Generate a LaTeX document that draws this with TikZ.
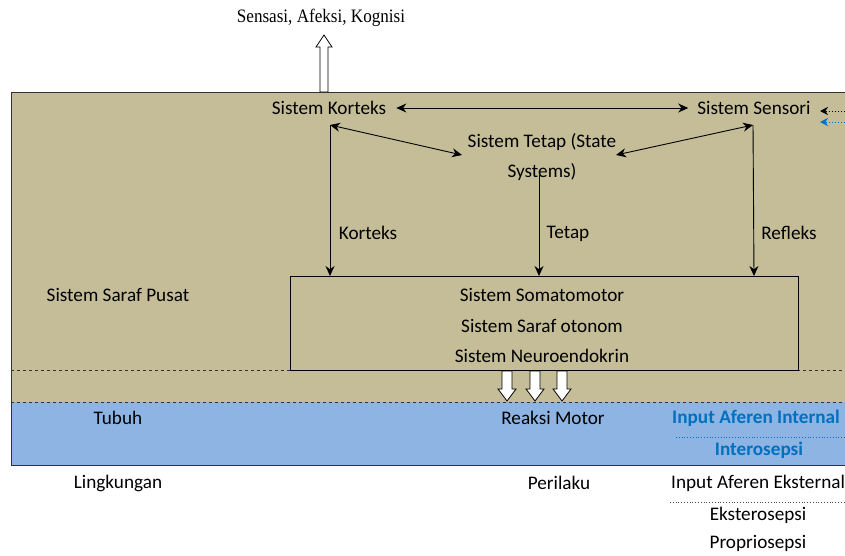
\documentclass[tikz,border=0pt]{standalone}
\usepackage{fontspec}
\setmainfont{Carlito}
\newfontfamily\serifnote{Liberation Serif}
\usetikzlibrary{arrows.meta}
\definecolor{tanbg}{HTML}{C4BD97}
\definecolor{bluebg}{HTML}{8DB4E2}
\definecolor{inblue}{HTML}{0070C0}
\begin{document}
\begin{tikzpicture}[x=1pt,y=-1pt,
  lbl/.style={inner sep=0pt,font=\fontsize{19.2}{22}\selectfont},
  blbl/.style={lbl,font=\fontsize{19.2}{22}\selectfont\bfseries,text=inblue},
  arr/.style={-{Stealth[length=10pt,width=9pt]},line width=0.9pt},
  darr/.style={{Stealth[length=10pt,width=9pt]}-{Stealth[length=10pt,width=9pt]},line width=0.9pt},
  hollowdown/.pic={\draw[fill=white,line width=0.8pt] (-5,0) -- (5,0) -- (5,18) -- (9,18) -- (0,30) -- (-9,18) -- (-5,18) -- cycle;},
  hollowup/.pic={\draw[fill=white,line width=0.8pt] (-4,0) -- (4,0) -- (4,-45) -- (8,-45) -- (0,-57) -- (-8,-45) -- (-4,-45) -- cycle;}
]
\useasboundingbox (0,0) rectangle (845,555);
% backgrounds
\fill[tanbg] (11,92) rectangle (860,402);
\fill[bluebg] (11,402) rectangle (860,465);
\draw[line width=0.9pt,black!80] (860,92) -- (11,92) -- (11,465) -- (860,465);
\draw[dashed,line width=0.8pt,black!80] (11,370) -- (860,370);
\draw[dashed,line width=0.8pt,black!80] (11,402) -- (860,402);
% inner box
\draw[line width=0.9pt,fill=tanbg] (290,276) rectangle (798,370);
\node[lbl] (somato) at (542,295) {Sistem Somatomotor};
\node[lbl] (otonom) at (542,326) {Sistem Saraf otonom};
\node[lbl] (neuro) at (542,356) {Sistem Neuroendokrin};
\coordinate (boxK) at (330,276);
\coordinate (boxT) at (539,276);
\coordinate (boxR) at (754,276);
% top nodes
\node[lbl] (korteks) at (329,108) {Sistem Korteks};
\node[lbl] (sensori) at (754,108) {Sistem Sensori};
\node[lbl,align=center,font=\fontsize{19.2}{30}\selectfont] (tetap) at (542,157) {Sistem Tetap (State\\Systems)};
\coordinate (kD) at (330,125);
\coordinate (sD) at (753,125);
\coordinate (tW) at (462,155);
\coordinate (tE) at (616,155);
\coordinate (tS) at (539,175);
\draw[darr] ([xshift=10pt]korteks.east) -- ([xshift=-9pt]sensori.west);
\draw[darr] (kD) -- (tW);
\draw[darr] (sD) -- (tE);
\draw[arr] (kD) -- (boxK);
\draw[arr] (tS) -- (boxT);
\draw[arr] (sD) -- (boxR);
\node[lbl] (lk) at (368,233) {Korteks};
\node[lbl] (lt) at (568,234) {Tetap};
\node[lbl] (lr) at (789,233) {Refleks};
\node[lbl] (pusat) at (118,295) {Sistem Saraf Pusat};
% output arrows
\pic at (507,371) {hollowdown};
\pic at (535,371) {hollowdown};
\pic at (562,371) {hollowdown};
\pic at (324,92) {hollowup};
\node[inner sep=0pt,font=\serifnote\fontsize{19}{22}\selectfont,xscale=0.9] (sak) at (321,18) {Sensasi, Afeksi, Kognisi};
% incoming from right
\coordinate (inK) at (848,111);
\coordinate (inB) at (848,122);
\coordinate (tipK) at (820,111);
\coordinate (tipB) at (820,122);
\draw[dotted,line width=1pt,-{Stealth[length=8pt,width=8pt]}] (inK) -- (tipK);
\draw[dotted,line width=1pt,inblue,-{Stealth[length=8pt,width=8pt]}] (inB) -- (tipB);
% body row
\node[lbl] (tubuh) at (118,418) {Tubuh};
\node[lbl] (reaksi) at (553,418) {Reaksi Motor};
\node[blbl,anchor=west] (inInt) at (672,418) {Input Aferen Internal};
\draw[dotted,line width=0.8pt,inblue] (676,437) -- (860,437);
\node[blbl] (intero) at (759,450) {Interosepsi};
% environment row
\node[lbl] (lingk) at (118,483) {Lingkungan};
\node[lbl] (peril) at (559,483) {Perilaku};
\node[lbl,anchor=west] (inEks) at (671,483) {Input Aferen Eksternal};
\draw[dotted,line width=0.8pt,black!70] (670,502) -- (860,502);
\node[lbl] (ekstero) at (758,515) {Eksterosepsi};
\node[lbl] (proprio) at (758,543) {Propriosepsi};
\end{tikzpicture}
\end{document}
